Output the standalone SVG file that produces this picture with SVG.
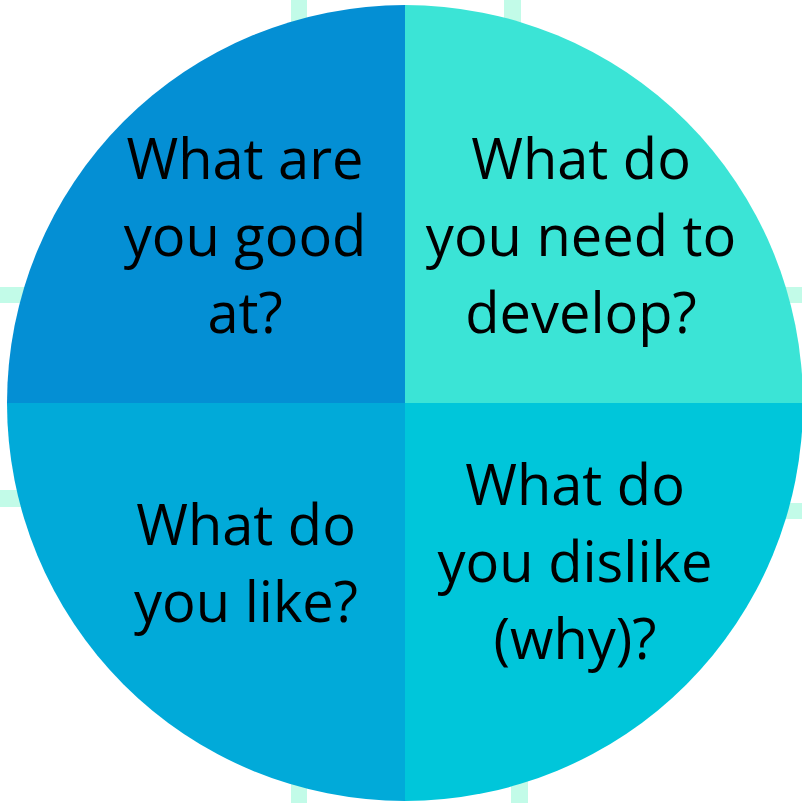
<svg xmlns="http://www.w3.org/2000/svg" width="802" height="803" viewBox="0 0 802 803">
  <style>
    .tick { fill: #c2fbe8; }
    .label { font-family: "Open Sans", "Noto Sans", sans-serif; font-size: 56px; fill: #000000; text-anchor: middle; }
  </style>
  <rect width="802" height="803" fill="#ffffff"/>
  <!-- guide ticks peeking out from behind the circle -->
  <g id="ticks">
    <rect class="tick" x="291" y="0" width="16" height="80"/>
    <rect class="tick" x="504" y="0" width="17" height="80"/>
    <rect class="tick" x="291" y="723" width="16" height="80"/>
    <rect class="tick" x="511" y="723" width="17" height="80"/>
    <rect class="tick" x="0" y="287" width="80" height="16"/>
    <rect class="tick" x="0" y="490" width="80" height="17"/>
    <rect class="tick" x="722" y="287" width="80" height="16"/>
    <rect class="tick" x="722" y="503" width="80" height="16"/>
  </g>
  <!-- four quadrants of the circle, centre (405,403), r 398 -->
  <g id="q-good">
    <path d="M405 403 L7 403 A398 398 0 0 1 405 5 Z" fill="#048fd4"/>
    <text class="label" x="245" y="179">What are</text>
    <text class="label" x="245" y="256">you good</text>
    <text class="label" x="245" y="333">at?</text>
  </g>
  <g id="q-develop">
    <path d="M405 403 L405 5 A398 398 0 0 1 803 403 Z" fill="#3be4d6"/>
    <text class="label" x="581" y="179">What do</text>
    <text class="label" x="581" y="256">you need to</text>
    <text class="label" x="581" y="333">develop?</text>
  </g>
  <g id="q-like">
    <path d="M405 403 L405 801 A398 398 0 0 1 7 403 Z" fill="#01aad9"/>
    <text class="label" x="246" y="545">What do</text>
    <text class="label" x="246" y="622">you like?</text>
  </g>
  <g id="q-dislike">
    <path d="M405 403 L803 403 A398 398 0 0 1 405 801 Z" fill="#00c6da"/>
    <text class="label" x="575" y="505">What do</text>
    <text class="label" x="575" y="582">you dislike</text>
    <text class="label" x="575" y="659">(why)?</text>
  </g>
  <g id="connectors"/>
</svg>
